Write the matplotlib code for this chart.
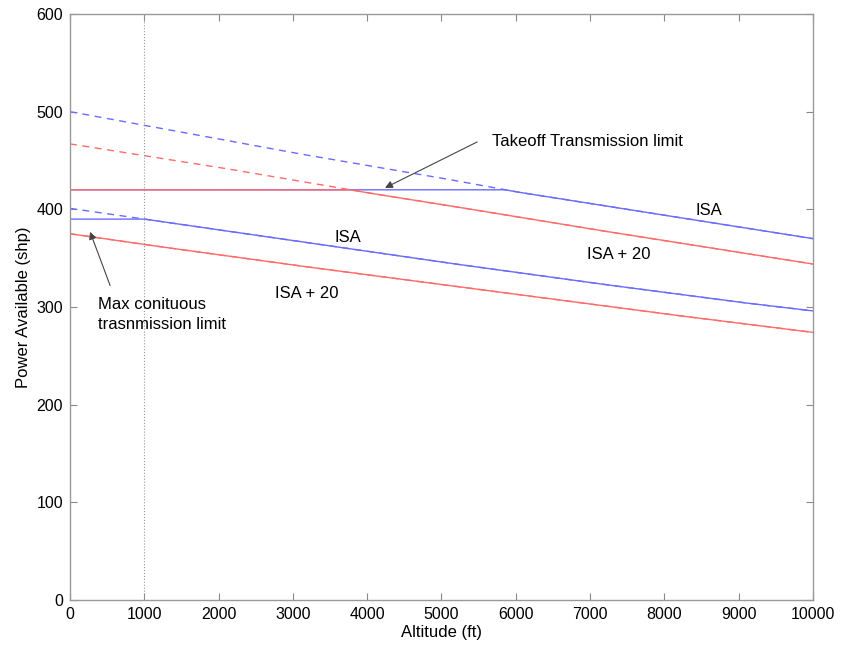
import numpy as np
import matplotlib
matplotlib.use('Agg')
import matplotlib.pyplot as plt

plt.rcParams['font.family'] = ['Liberation Sans', 'DejaVu Sans']

# Altitude (ft) và công suất khả dụng (shp)
altitude = np.array([0, 1000, 2000, 3000, 4000, 5000, 6000, 7000, 8000, 9000, 10000])
takeoff_isa = np.array([500, 486, 472, 458, 445, 432, 418, 406, 394, 382, 370])
takeoff_isa20 = np.array([467, 455, 443, 430, 417, 405, 392.5, 380, 368, 356, 344])
mcp_isa = np.array([401, 390, 379, 368, 357, 346, 335.5, 325, 315, 305, 296])
mcp_isa20 = np.array([375, 364, 353.5, 343, 333, 323, 313, 303, 293, 283.5, 274])

takeoff_limit = 420
mcp_limit = 390

blue = '#6b6bff'
red = '#ff6b6b'

fig = plt.figure(figsize=(8.45, 6.45), dpi=100)
ax = fig.add_axes([70 / 845, 1 - 600 / 645, (813 - 70) / 845, (600 - 14) / 645])

# Mịn hơn để cắt đúng tại giới hạn
x_fine = np.linspace(0, 10000, 401)

def plot_pair(values, limit, color):
    y = np.interp(x_fine, altitude, values)
    ax.plot(x_fine, y, color=color, lw=1, ls=(0, (5, 4)))
    ax.plot(x_fine, np.minimum(y, limit), color=color, lw=1)

plot_pair(takeoff_isa, takeoff_limit, blue)
plot_pair(takeoff_isa20, takeoff_limit, red)
plot_pair(mcp_isa, mcp_limit, blue)
plot_pair(mcp_isa20, mcp_limit, red)

ax.axvline(1000, color='#999999', lw=0.8, ls=':')

fs = 12
ax.text(8600, 399, 'ISA', ha='center', va='center', fontsize=fs)
ax.text(7390, 354, 'ISA + 20', ha='center', va='center', fontsize=fs)
ax.text(3740, 371, 'ISA', ha='center', va='center', fontsize=fs)
ax.text(3180, 314, 'ISA + 20', ha='center', va='center', fontsize=fs)

arrow = dict(arrowstyle='-|>', color='#444444', lw=0.8,
             shrinkA=0, shrinkB=0, mutation_scale=11)
ax.text(5680, 469, 'Takeoff Transmission limit', fontsize=fs, ha='left', va='center')
ax.annotate('', xy=(4240, 422), xytext=(5480, 469), arrowprops=arrow)
ax.text(380, 292, 'Max conituous\ntrasnmission limit', fontsize=fs,
        ha='left', va='center', linespacing=1.4)
ax.annotate('', xy=(270, 377), xytext=(540, 322), arrowprops=arrow)

ax.set_xlim(0, 10000)
ax.set_ylim(0, 600)
ax.set_xticks(np.arange(0, 10001, 1000))
ax.set_yticks(np.arange(0, 601, 100))
ax.tick_params(direction='in', top=True, right=True, length=5, color='#888888',
               labelsize=11.5, pad=5)
for s in ax.spines.values():
    s.set_color('#999999')
    s.set_linewidth(1)

ax.set_xlabel('Altitude (ft)', fontsize=fs, labelpad=2)
ax.set_ylabel('Power Available (shp)', fontsize=fs, labelpad=4)

fig.savefig('out.png', dpi=100)
